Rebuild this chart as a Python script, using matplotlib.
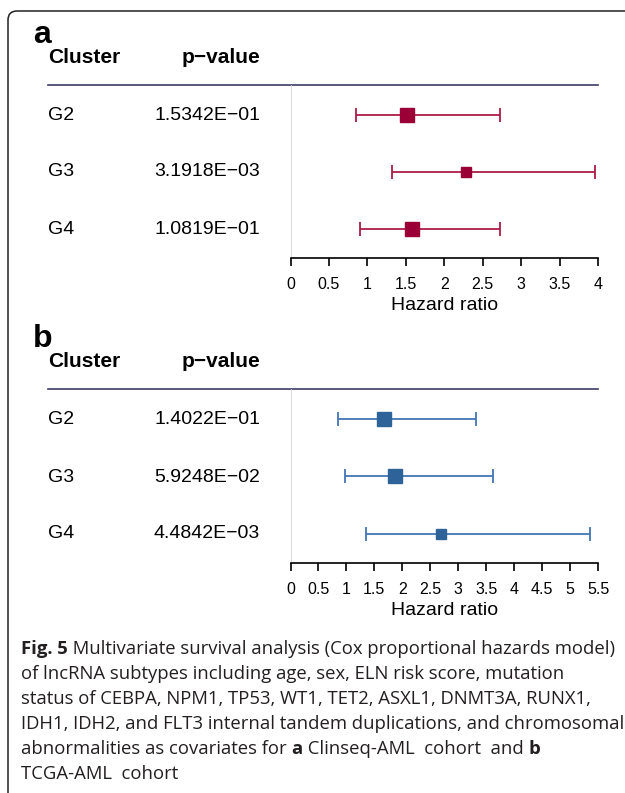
import numpy as np
import matplotlib
matplotlib.use('Agg')
import matplotlib.pyplot as plt
from matplotlib.patches import FancyBboxPatch

# data
clusters = ['G2', 'G3', 'G4']

pval_a = [1.5342e-01, 3.1918e-03, 1.0819e-01]
hr_a = [1.52, 2.28, 1.575]
lo_a = [0.85, 1.32, 0.91]
hi_a = [2.72, 3.96, 2.73]
ticks_a = [0, 0.5, 1, 1.5, 2, 2.5, 3, 3.5, 4]

pval_b = [1.4022e-01, 5.9248e-02, 4.4842e-03]
hr_b = [1.67, 1.87, 2.69]
lo_b = [0.85, 0.97, 1.35]
hi_b = [3.32, 3.62, 5.36]
ticks_b = [0, 0.5, 1, 1.5, 2, 2.5, 3, 3.5, 4, 4.5, 5, 5.5]

caption = [
    [("Fig. 5", 'bold'), (" Multivariate survival analysis (Cox proportional hazards model)", 'normal')],
    [("of lncRNA subtypes including age, sex, ELN risk score, mutation", 'normal')],
    [("status of CEBPA, NPM1, TP53, WT1, TET2, ASXL1, DNMT3A, RUNX1,", 'normal')],
    [("IDH1, IDH2, and FLT3 internal tandem duplications, and chromosomal", 'normal')],
    [("abnormalities as covariates for ", 'normal'), ("a", 'bold'),
     (" Clinseq-AML  cohort  and ", 'normal'), ("b", 'bold')],
    [("TCGA-AML  cohort", 'normal')],
]

W, H = 625, 793
fig = plt.figure(figsize=(W / 100, H / 100), dpi=100)

# background axes in pixel units for text, rules and the frame
bg = fig.add_axes([0, 0, 1, 1])
bg.set_xlim(0, W)
bg.set_ylim(H, 0)
bg.axis('off')

frame = FancyBboxPatch((8, 11), 700, 900, boxstyle='round,pad=0,rounding_size=9',
                       fc='none', ec='#222222', lw=1.1)
bg.add_patch(frame)

sans = 'Liberation Sans'


def fmt_p(p):
    return '{:.4E}'.format(p).replace('-', '\u2212')


def panel(letter, top, rows_y, axis_y, hr, lo, hi, pvals, ticks, xmax,
          sq_col, ln_col, box_sizes):
    # panel letter and headers
    bg.text(33, top, letter, fontsize=23, fontweight='bold', family=sans,
            va='baseline', ha='left')
    bg.text(48, top + 20, 'Cluster', fontsize=15, fontweight='bold', family=sans,
            va='baseline', ha='left')
    bg.text(260, top + 20, 'p\u2212value', fontsize=15, fontweight='bold', family=sans,
            va='baseline', ha='right')
    line_y = top + 42
    bg.plot([48, 598], [line_y, line_y], color='#3c3c64', lw=1.2)

    for i, name in enumerate(clusters):
        bg.text(48, rows_y[i], name, fontsize=14, family=sans, va='center', ha='left')
        bg.text(260, rows_y[i], fmt_p(pvals[i]), fontsize=14, family=sans,
                va='center', ha='right')

    # forest part
    x0, x1 = 290.5, 598
    sp = rows_y[1] - rows_y[0]
    ax = fig.add_axes([x0 / W, 1 - axis_y / H, (x1 - x0) / W, (axis_y - line_y) / H])
    ax.patch.set_visible(False)
    ax.set_xlim(0, xmax)
    y_top = 1 - (rows_y[0] - line_y) / sp
    y_bot = 3 + (axis_y - rows_y[2]) / sp
    ax.set_ylim(y_bot, y_top)
    ys = np.arange(1, len(clusters) + 1)

    ax.axvline(0, color='#d4d4d4', lw=1.2, zorder=0)
    ax.errorbar(hr, ys, xerr=[np.array(hr) - np.array(lo), np.array(hi) - np.array(hr)],
                fmt='none', ecolor=ln_col, elinewidth=1.3, capsize=5, capthick=1.3)
    for x, y, s in zip(hr, ys, box_sizes):
        ax.plot(x, y, marker='s', ms=s, color=sq_col, mec=sq_col, zorder=3)

    for side in ['top', 'right', 'left']:
        ax.spines[side].set_visible(False)
    ax.spines['bottom'].set_bounds(0, xmax)
    ax.spines['bottom'].set_linewidth(1.2)
    ax.set_yticks([])
    ax.set_xticks(ticks)
    ax.set_xticklabels(['{:g}'.format(t) for t in ticks], family=sans, fontsize=11.5)
    ax.tick_params(axis='x', direction='out', length=6, width=1.2, pad=8)
    ax.set_xlabel('Hazard ratio', family=sans, fontsize=14, labelpad=3)
    return ax


panel('a', 43, [115, 172, 229], 258, hr_a, lo_a, hi_a, pval_a, ticks_a, 4,
      '#9a0036', '#ab1c45', [9.8, 7.6, 9.8])
panel('b', 347, [419, 477, 534], 563, hr_b, lo_b, hi_b, pval_b, ticks_b, 5.5,
      '#2e6399', '#4276b4', [9.8, 9.8, 7.4])

# caption with mixed bold
cap_font = 'Open Sans'
y = 654
for parts in caption:
    prev = None
    for s, w in parts:
        if prev is None:
            prev = bg.text(21, y, s, fontsize=13.3, fontweight=w, family=cap_font,
                           color='#231f20', va='baseline', ha='left')
        else:
            prev = bg.annotate(s, xy=(1, 0), xycoords=prev, va='bottom', ha='left',
                               fontsize=13.3, fontweight=w, family=cap_font,
                               color='#231f20')
    y += 25

fig.savefig('out.png', dpi=100)
